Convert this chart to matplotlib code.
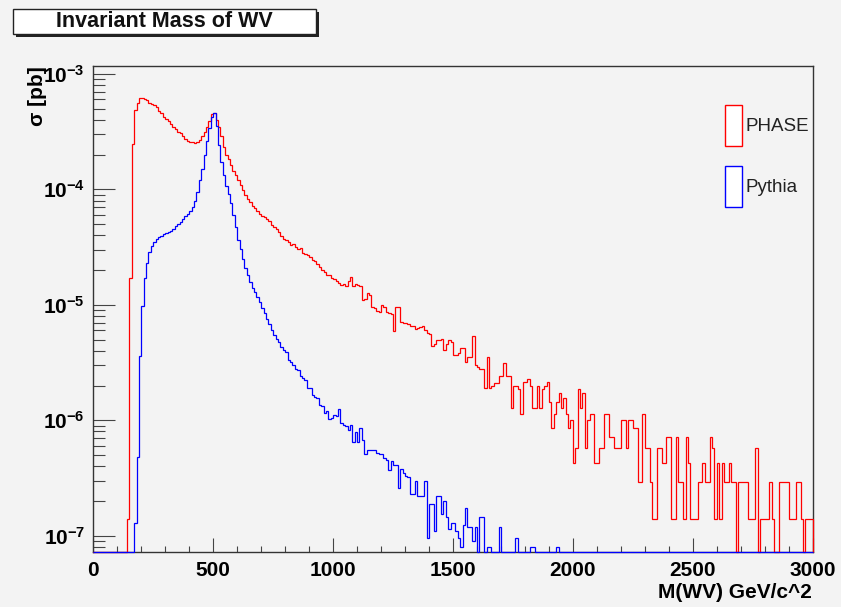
import numpy as np
import matplotlib.pyplot as plt
from matplotlib.patches import Patch, Rectangle

plt.rcParams['font.family'] = ['Liberation Sans', 'DejaVu Sans']
plt.rcParams['mathtext.fontset'] = 'custom'
plt.rcParams['mathtext.rm'] = 'Liberation Sans:bold'
plt.rcParams['mathtext.it'] = 'Liberation Sans:bold'
plt.rcParams['mathtext.bf'] = 'Liberation Sans:bold'

# histogram: 300 bins of 10 GeV between 0 and 3000 GeV
bin_width = 10
n_bins = 300

# cross section per bin, in units of 1e-7 pb
phase_xsec = [
    0, 0, 0, 0, 0, 0, 0, 0, 0, 0,
    0, 0, 0, 0, 1.4, 170, 2455, 4898, 5623, 6166,
    6166, 6026, 5888, 5623, 5495, 5370, 5129, 4786, 4571, 4266,
    4074, 3890, 3715, 3467, 3311, 3162, 3090, 2884, 2754, 2630,
    2570, 2570, 2512, 2570, 2692, 2884, 3162, 3467, 3890, 4467,
    4571, 3981, 3467, 2884, 2344, 1995, 1820, 1622, 1445, 1318,
    1202, 1096, 977, 891, 832, 776, 724, 692, 646, 617,
    589, 580, 548, 530, 487, 470, 452, 430, 395, 372,
    363, 347, 331, 339, 316, 302, 309, 282, 275, 269,
    257, 245, 240, 224, 214, 200, 191, 182, 182, 170,
    166, 160, 155, 148, 151, 145, 160, 174, 145, 150,
    148, 145, 110, 112, 126, 122, 95, 93, 89, 87,
    100, 95, 87, 85, 84, 59, 96, 95, 71, 70,
    69, 68, 65, 65, 62, 63, 64, 65, 60, 57,
    56, 44, 46, 50, 50, 51, 41, 46, 50, 48,
    37, 37, 38, 42, 42, 32, 35, 35, 54, 30,
    29, 28, 28, 19, 35, 19, 20, 21, 21, 24,
    24.3, 31.5, 24.3, 24.3, 12.9, 20.0, 20.0, 18.6, 11.4, 21.5,
    21.5, 22.9, 20.0, 12.9, 12.9, 20.0, 12.9, 18.6, 20.0, 21.5,
    14.3, 8.6, 11.4, 14.3, 17.2, 12.9, 15.7, 11.4, 8.6, 10.0,
    4.3, 5.7, 18.6, 12.9, 17.2, 5.7, 10.0, 11.4, 11.4, 4.3,
    4.3, 5.7, 5.7, 11.4, 11.4, 7.2, 7.2, 5.7, 5.7, 5.7,
    10.0, 10.0, 5.7, 10.0, 10.0, 8.6, 8.6, 2.9, 2.9, 11.4,
    5.7, 5.7, 2.9, 1.4, 1.4, 5.7, 5.7, 4.3, 4.3, 7.2,
    7.2, 1.4, 1.4, 7.2, 2.9, 2.9, 1.4, 7.2, 4.3, 1.4,
    1.4, 1.4, 2.9, 2.9, 4.3, 2.9, 2.9, 7.2, 5.7, 1.4,
    4.3, 1.4, 4.3, 2.9, 2.9, 4.3, 2.9, 2.9, 0, 2.9,
    2.9, 2.9, 2.9, 1.4, 1.4, 1.4, 5.7, 0, 1.4, 1.4,
    1.4, 1.4, 2.9, 1.4, 0, 0, 2.9, 2.9, 2.9, 2.9,
    1.4, 1.4, 1.4, 2.9, 2.9, 1.4, 0, 1.4, 1.4, 1.4,
]

pythia_xsec = [
    0, 0, 0, 0, 0, 0, 0, 0, 0, 0,
    0, 0, 0, 0, 0, 0, 0, 1.3, 4.8, 36,
    98, 170, 229, 288, 324, 347, 372, 389, 398, 407,
    417, 427, 437, 457, 479, 501, 525, 550, 589, 617,
    646, 708, 794, 955, 1202, 1514, 1995, 2630, 3388, 4266,
    4571, 3548, 2399, 1738, 1318, 1072, 912, 759, 603, 468,
    363, 302, 251, 209, 182, 158, 141, 129, 117, 105,
    93, 85, 76, 68, 60, 55, 51, 48, 43, 41,
    39, 33, 32, 30, 28, 27.5, 24, 23.4, 22.4, 19,
    19, 16.6, 15.8, 15.5, 13.5, 13.2, 11.5, 12, 10.2, 10.5,
    11.2, 11.0, 12.6, 9.5, 9.1, 8.9, 8.3, 9.1, 6.5, 7.9,
    6.5, 8.5, 6.8, 5.1, 5.5, 5.5, 5.5, 5.5, 5.2, 5.1,
    5.1, 4.7, 4.5, 3.7, 4.4, 4.1, 4.1, 2.6, 3.8, 3.5,
    3.3, 3.2, 2.3, 2.3, 3.0, 2.2, 2.2, 2.2, 3.0, 0.95,
    1.9, 1.9, 1.1, 2.2, 2.2, 1.55, 2.0, 1.45, 1.15, 1.3,
    1.3, 1.1, 0.95, 0.8, 1.25, 1.75, 1.2, 1.2, 0.9, 1.2,
    0, 1.45, 1.45, 0, 0.8, 0.8, 0, 0, 0, 1.2,
    0, 0, 0, 0, 0, 0, 0.95, 0, 0, 0,
    0, 0, 0.8, 0.8, 0, 0, 0, 0, 0, 0,
    0, 0, 0, 0.8, 0, 0, 0, 0, 0, 0,
] + [0] * 100

unit = 1e-7
labels = ['PHASE', 'Pythia']
colors = ['#ff0000', '#0000ff']

x_ticks = [0, 500, 1000, 1500, 2000, 2500, 3000]
y_ticks = [1e-7, 1e-6, 1e-5, 1e-4, 1e-3]
y_tick_labels = [r'$10^{-7}$', r'$10^{-6}$', r'$10^{-5}$', r'$10^{-4}$', r'$10^{-3}$']

ymin, ymax = 7.18e-8, 1.17e-3
bg = '#f3f3f3'

edges = np.arange(n_bins + 1) * bin_width

fig = plt.figure(figsize=(8.41, 6.07), dpi=100, facecolor=bg)
ax = fig.add_axes([0.111, 0.090, 0.8553, 0.8013], facecolor=bg)

for vals, c, z in zip([phase_xsec, pythia_xsec], colors, [3, 4]):
    v = np.maximum(np.array(vals) * unit, ymin)
    ax.stairs(v, edges, baseline=ymin, color=c, lw=0.9, zorder=z, clip_on=False)

ax.set_yscale('log')
ax.set_xlim(0, 3000)
ax.set_ylim(ymin, ymax)

ax.set_xticks(x_ticks)
ax.set_xticklabels([str(t) for t in x_ticks])
ax.set_xticks(np.arange(0, 3001, 100), minor=True)
ax.set_yticks(y_ticks)
ax.set_yticklabels(y_tick_labels)
minor_y = [m * 10.0 ** e for e in range(-8, -2) for m in range(2, 10)]
ax.set_yticks([t for t in minor_y if ymin < t < ymax], minor=True)
ax.yaxis.set_minor_formatter(plt.NullFormatter())

ax.tick_params(axis='both', which='both', direction='in', color='#444444',
               width=0.8, labelsize=15, top=False, right=False)
ax.tick_params(axis='y', which='major', length=15.6, pad=6)
ax.tick_params(axis='y', which='minor', length=8.4)
ax.tick_params(axis='x', which='major', length=10, pad=6)
ax.tick_params(axis='x', which='minor', length=4.6)
for lab in ax.get_xticklabels():
    lab.set_fontweight('bold')

for side in ['left', 'bottom', 'top', 'right']:
    ax.spines[side].set_color('#333333')
    ax.spines[side].set_linewidth(1.0)

# axis titles, placed at the ends of the axes as ROOT does
fig.text(812 / 841, 1 - 583 / 607, 'M(WV) GeV/c^2', ha='right', va='top',
         fontsize=15, fontweight='bold')

ax.set_ylabel('σ [pb]', fontsize=15, fontweight='bold', loc='top')
ax.yaxis.set_label_coords(-0.078, 1.0)
ax.yaxis.label.set_va('center')

handles = [Patch(facecolor='white', edgecolor=c, lw=1.0) for c in colors]
fig.legend(handles, labels, loc='upper left',
           bbox_to_anchor=(725 / 841, 1 - 105 / 607), bbox_transform=fig.transFigure,
           frameon=False, fontsize=13.5, handlelength=0.9, handleheight=3.0,
           handletextpad=0.2, labelspacing=1.05, borderpad=0, borderaxespad=0,
           labelcolor='#222222')

# title box with a shadow, ROOT style
fig.add_artist(Rectangle((0.0151 + 0.0036, 0.9435 - 0.005), 0.3607, 0.0412,
                         transform=fig.transFigure, facecolor='#222222', edgecolor='none'))
fig.add_artist(Rectangle((0.0151, 0.9435), 0.3607, 0.0412,
                         transform=fig.transFigure, facecolor='white',
                         edgecolor='#222222', lw=1.0))
fig.text(0.195, 0.9641, 'Invariant Mass of WV', ha='center', va='center',
         fontsize=15.5, fontweight='bold', color='#111111')

fig.savefig('out.png', dpi=100, facecolor=bg)
